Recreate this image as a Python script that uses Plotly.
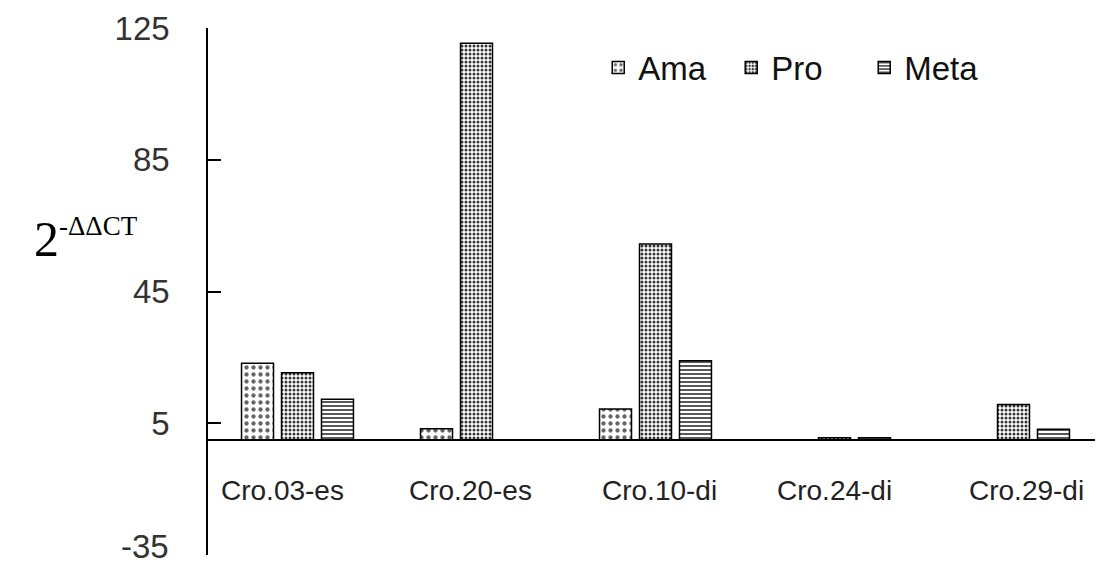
import plotly.graph_objects as go

categories = ["Cro.03-es", "Cro.20-es", "Cro.10-di", "Cro.24-di", "Cro.29-di"]
ama = [23.2, 3.3, 9.3, None, None]
pro = [20.3, 120.4, 59.4, 0.6, 10.7]
meta = [12.3, None, 24.0, 0.6, 3.2]
y_ticks = [-35, 5, 45, 85, 125]

label_shift = [-15, -6, 4, 0, 13]

fig = go.Figure()

fig.add_trace(go.Bar(
    name="Ama", x=categories, y=ama,
    marker=dict(color="white", line=dict(color="black", width=1.5),
                pattern=dict(shape=".", size=7, solidity=0.3, fgcolor="#666666",
                             bgcolor="white", fillmode="replace")),
))
fig.add_trace(go.Bar(
    name="Pro", x=categories, y=pro,
    marker=dict(color="white", line=dict(color="black", width=1.5),
                pattern=dict(shape=".", size=4, solidity=0.45, fgcolor="#333333",
                             bgcolor="white", fillmode="replace")),
))
fig.add_trace(go.Bar(
    name="Meta", x=categories, y=meta,
    marker=dict(color="white", line=dict(color="black", width=1.5),
                pattern=dict(shape="-", size=4, solidity=0.35, fgcolor="#111111",
                             bgcolor="white", fillmode="replace")),
))

tick_font = dict(family="Liberation Sans, Arial, sans-serif", size=33, color="#333333")

annotations = []
for cat, dx in zip(categories, label_shift):
    annotations.append(dict(
        x=cat, y=-15.3, xref="x", yref="y", text=cat, showarrow=False,
        xanchor="center", yanchor="middle", xshift=dx,
        font=dict(family="Liberation Sans, Arial, sans-serif", size=28, color="#222222"),
    ))
annotations.append(dict(
    x=-0.136, y=0.60, xref="paper", yref="paper",
    text="2<sup><span style='font-size:27px'>-ΔΔCT</span></sup>",
    showarrow=False, xanchor="center", yanchor="middle",
    font=dict(family="Liberation Serif, Times New Roman, serif", size=50, color="black"),
))
# lowest tick label, kept inside the page
annotations.append(dict(
    x=0, y=0, xref="paper", yref="paper", text=str(y_ticks[0]), showarrow=False,
    xanchor="right", yanchor="bottom", xshift=-37, yshift=-12, font=tick_font,
))

ticktext = ["" if v == y_ticks[0] else str(v) for v in y_ticks]

# page body has an 8px default margin; size the figure so the plot lands in place
fig.update_layout(
    width=1095, height=559,
    margin=dict(l=200, r=0, t=20, b=12, autoexpand=False),
    paper_bgcolor="white", plot_bgcolor="white",
    barmode="group", bargap=0.33, bargroupgap=0.2,
    showlegend=True,
    legend=dict(orientation="h", x=0.436, y=0.925, xanchor="left", yanchor="middle",
                entrywidth=88, entrywidthmode="pixels",
                font=dict(family="Liberation Sans, Arial, sans-serif", size=33, color="#111111"),
                bgcolor="rgba(0,0,0,0)", traceorder="normal"),
    xaxis=dict(range=[-0.5, 4.5], showticklabels=False, showline=False, showgrid=False,
               zeroline=False, ticks="", automargin=False),
    yaxis=dict(range=[-35, 125], tickvals=y_ticks, ticktext=ticktext,
               showline=True, linecolor="black", linewidth=1.5,
               ticks="inside", ticklen=13, tickwidth=1.5, tickcolor="black",
               showgrid=False, zeroline=True, zerolinecolor="black", zerolinewidth=1.5,
               ticklabelstandoff=30, ticklabeloverflow="allow", automargin=False,
               tickfont=tick_font),
    annotations=annotations,
)

fig.write_html("out.html")
